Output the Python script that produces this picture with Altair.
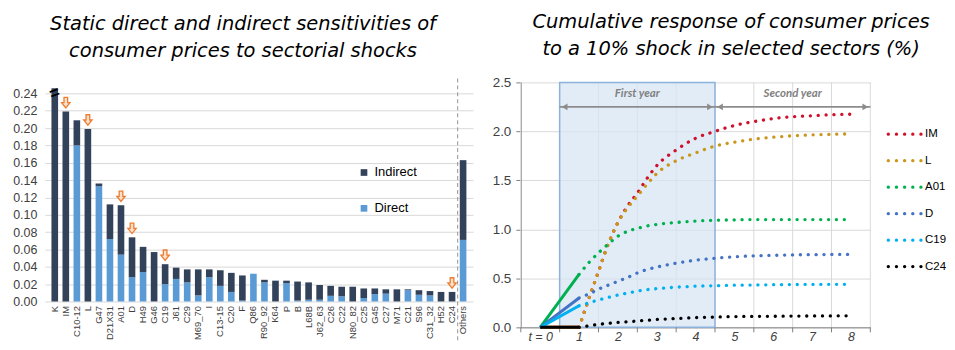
import altair as alt
import pandas as pd

FONT = "Liberation Sans"
TFONT = "DejaVu Sans"

# ---------------- Left panel data ----------------
sectors = ["K", "IM", "C10-12", "L", "G47", "D21X31", "A01", "D", "H49", "G46",
           "C19", "J61", "C29", "M69_70", "I", "C13-15", "C20", "F", "Q86", "R90_92",
           "K64", "P", "B", "L68B", "J62_63", "C26", "C22", "N80_82", "C25", "G45",
           "C27", "M71", "C21", "S96", "C31_32", "H52", "C24", "Others"]
total_sens = [0.246, 0.219, 0.209, 0.199, 0.136, 0.112, 0.111, 0.074, 0.063, 0.057,
              0.043, 0.039, 0.037, 0.037, 0.037, 0.036, 0.033, 0.030, 0.032, 0.025,
              0.024, 0.024, 0.023, 0.022, 0.019, 0.018, 0.017, 0.017, 0.015, 0.015,
              0.014, 0.014, 0.014, 0.013, 0.012, 0.011, 0.011, 0.163]
direct_sens = [0.0, 0.0, 0.180, 0.0, 0.133, 0.072, 0.054, 0.028, 0.034, 0.0,
               0.020, 0.026, 0.022, 0.007, 0.028, 0.018, 0.011, 0.001, 0.032, 0.022,
               0.0, 0.021, 0.001, 0.002, 0.002, 0.0065, 0.006, 0.0, 0.004, 0.0085,
               0.009, 0.0, 0.013, 0.0077, 0.007, 0.0, 0.0, 0.071]
arrow_sectors = ["IM", "L", "A01", "D", "C19", "C24"]
left_ticks = [0.00, 0.02, 0.04, 0.06, 0.08, 0.10, 0.12, 0.14, 0.16, 0.18, 0.20, 0.22, 0.24]
bar_types = ["Indirect", "Direct"]
bar_colors = ["#33425B", "#5B9BD5"]

# ---------------- Right panel data ----------------
t_grid = [0, 1, 1.25, 1.5, 1.75, 2, 2.25, 2.5, 2.75, 3, 3.5, 4, 4.5, 5, 5.5, 6, 6.5, 7, 7.5, 8]
resp_IM = [0, 0, 0.29, 0.57, 0.85, 1.07, 1.24, 1.37, 1.52, 1.65, 1.81, 1.93, 2.00, 2.06, 2.10, 2.13, 2.15, 2.16, 2.17, 2.175]
resp_L = [0, 0, 0.29, 0.57, 0.85, 1.07, 1.22, 1.34, 1.46, 1.57, 1.70, 1.78, 1.85, 1.89, 1.92, 1.94, 1.955, 1.965, 1.97, 1.975]
resp_A01 = [0, 0.54, 0.66, 0.76, 0.85, 0.93, 0.98, 1.01, 1.035, 1.05, 1.07, 1.085, 1.093, 1.097, 1.10, 1.10, 1.10, 1.10, 1.10, 1.10]
resp_D = [0, 0.30, 0.34, 0.39, 0.43, 0.47, 0.51, 0.555, 0.59, 0.615, 0.655, 0.685, 0.705, 0.72, 0.73, 0.735, 0.74, 0.742, 0.744, 0.745]
resp_C19 = [0, 0.22, 0.25, 0.28, 0.305, 0.33, 0.35, 0.37, 0.385, 0.395, 0.41, 0.42, 0.425, 0.43, 0.432, 0.435, 0.437, 0.438, 0.439, 0.44]
resp_C24 = [0, 0, 0.015, 0.03, 0.04, 0.05, 0.057, 0.065, 0.072, 0.08, 0.09, 0.10, 0.105, 0.11, 0.112, 0.113, 0.115, 0.116, 0.117, 0.118]
series_names = ["IM", "L", "A01", "D", "C19", "C24"]
series_values = [resp_IM, resp_L, resp_A01, resp_D, resp_C19, resp_C24]
series_colors = ["#D0112B", "#C9971C", "#00B050", "#4472C4", "#00B0F0", "#000000"]
right_y_ticks = [0, 0.5, 1.0, 1.5, 2.0, 2.5]
right_x_labels = [0, 1, 2, 3, 4, 5, 6, 7, 8]
quarter_edges = [-0.5, 0.5, 1.5, 2.5, 3.5, 4.5, 5.5, 6.5, 7.5, 8.5]
period_labels = ["First year", "Second year"]
period_start = [0.5, 4.5]
period_end = [4.5, 8.5]
period_mid = [2.5, 6.5]
arrow_level = 2.25
label_level = 2.33

# ---------------- Left panel ----------------
rows = []
for s, t, d in zip(sectors, total_sens, direct_sens):
    rows.append({"sector": s, "type": "Direct", "value": d, "ord": 0})
    rows.append({"sector": s, "type": "Indirect", "value": round(t - d, 5), "ord": 1})
bar_df = pd.DataFrame(rows)
tot_df = pd.DataFrame({"sector": sectors, "total": total_sens})
arrow_df = tot_df[tot_df["sector"].isin(arrow_sectors)]
break_df = pd.DataFrame({"sector": [sectors[0]], "total": [left_ticks[-1]]})
sep_df = pd.DataFrame({"sector": [sectors[-1]]})

LW, LH = 430, 220
yscaleL = alt.Scale(domain=[0, 0.2527], nice=False)
yaxisL = alt.Axis(title=None, values=left_ticks, format=".2f", labelFontSize=12.5,
                  labelColor="#404040", ticks=False, domain=False, grid=True,
                  gridColor="#D9D9D9", labelPadding=8, labelFont=FONT, labelOverlap=False)
xL = alt.X("sector:N", sort=sectors,
           scale=alt.Scale(paddingInner=0.4, paddingOuter=0.6),
           axis=alt.Axis(title=None, labelAngle=-90, labelFontSize=9.5, labelColor="#404040",
                         ticks=False, domain=False, labelPadding=4, labelFont=FONT, grid=False))

bars = alt.Chart(bar_df).mark_bar().encode(
    x=xL,
    y=alt.Y("value:Q", stack="zero", scale=yscaleL, axis=yaxisL),
    color=alt.Color("type:N", scale=alt.Scale(domain=bar_types, range=bar_colors),
                    legend=alt.Legend(title=None, orient="none", legendX=314, legendY=84,
                                      symbolType="square", symbolSize=45, labelFontSize=13,
                                      labelFont=FONT, labelColor="#000000", rowPadding=22,
                                      symbolStrokeWidth=0)),
    order=alt.Order("ord:Q", sort="ascending"),
)

arrows = alt.Chart(arrow_df).mark_point(
    shape="M-0.35,-1 L0.35,-1 L0.35,0 L0.8,0 L0,1 L-0.8,0 L-0.35,0 Z",
    filled=True, fill="#FBE0CC", stroke="#ED7D31", strokeWidth=1.3, size=110, opacity=1,
    yOffset=-9,
).encode(x=alt.X("sector:N", sort=sectors), y=alt.Y("total:Q", scale=yscaleL, axis=yaxisL))

brk = alt.Chart(break_df).mark_text(
    text="=", angle=340, fontSize=17, fontWeight="bold", color="#000000", baseline="middle"
).encode(x=alt.X("sector:N", sort=sectors), y=alt.Y("total:Q", scale=yscaleL, axis=yaxisL))

sep = alt.Chart(sep_df).mark_rule(strokeDash=[4, 3], color="#A6A6A6", strokeWidth=1.2, xOffset=-5.5).encode(
    x=alt.X("sector:N", sort=sectors), y=alt.value(-4), y2=alt.value(LH + 39))

left = alt.layer(bars, sep, arrows, brk).properties(
    width=LW, height=LH,
    title=alt.TitleParams(["Static direct and indirect sensitivities of",
                           "consumer prices to sectorial shocks"],
                          fontSize=19.5, font=TFONT, fontStyle="italic", fontWeight="normal",
                          lineHeight=27, anchor="middle", offset=16.5, dx=-16, color="#000000"),
)

# ---------------- Right panel ----------------
lrows = []
for name, vals in zip(series_names, series_values):
    for t, v in zip(t_grid, vals):
        lrows.append({"series": name, "t": t, "value": v})
line_df = pd.DataFrame(lrows)
solid_df = line_df[line_df["t"] <= 1]
dot_df = line_df[line_df["t"] >= 1]

RW, RH = 351, 246
xs = alt.Scale(domain=[-0.5, 8.5], nice=False, zero=False)
ys = alt.Scale(domain=[0, 2.5], nice=False)
cscale = alt.Scale(domain=series_names, range=series_colors)

xR = alt.X("t:Q", scale=xs,
           axis=alt.Axis(title=None, values=right_x_labels,
                         labelExpr="datum.value == 0 ? 't = 0' : datum.label",
                         grid=False, ticks=False, domain=True, domainColor="#808080",
                         labelFontStyle="italic", labelFontSize=12.5, labelColor="#404040",
                         labelPadding=3, labelFont=FONT))
yR = alt.Y("value:Q", scale=ys,
           axis=alt.Axis(title=None, values=right_y_ticks, format=".1f", grid=True,
                         gridColor="#D9D9D9", domain=True, domainColor="#808080",
                         ticks=True, tickColor="#808080", tickSize=5, labelFontSize=13.5,
                         labelColor="#404040", labelPadding=5, labelFont=FONT))

edges_df = pd.DataFrame({"t": quarter_edges})
vgrid = alt.Chart(edges_df).mark_rule(color="#D9D9D9", strokeWidth=1).encode(
    x=alt.X("t:Q", scale=xs), y=alt.value(0), y2=alt.value(RH))
vticks = alt.Chart(edges_df).mark_rule(color="#808080", strokeWidth=1).encode(
    x=alt.X("t:Q", scale=xs), y=alt.value(RH), y2=alt.value(RH + 5))

box_df = pd.DataFrame({"x1": [period_start[0]], "x2": [period_end[0]],
                       "y1": [right_y_ticks[0]], "y2": [right_y_ticks[-1]]})
box = alt.Chart(box_df).mark_rect(fill="#D5E5F4", fillOpacity=0.72, stroke="#8DB3DC",
                                  strokeWidth=1.5).encode(
    x=alt.X("x1:Q", scale=xs), x2="x2:Q", y=alt.Y("y1:Q", scale=ys), y2="y2:Q")

dotted = alt.Chart(dot_df).mark_line(strokeDash=[0.1, 7.8], strokeCap="round", strokeWidth=3.3,
                                     interpolate="monotone").encode(
    x=xR, y=yR, color=alt.Color("series:N", scale=cscale, legend=None), detail="series:N")
solid = alt.Chart(solid_df).mark_line(strokeWidth=3, strokeCap="butt").encode(
    x=alt.X("t:Q", scale=xs), y=alt.Y("value:Q", scale=ys),
    color=alt.Color("series:N", scale=cscale, legend=None), detail="series:N")

per_df = pd.DataFrame({"label": period_labels, "start": period_start, "end": period_end,
                       "mid": period_mid, "lvl": [arrow_level] * 2, "tl": [label_level] * 2})
arr_rule = alt.Chart(per_df).mark_rule(color="#8C8C8C", strokeWidth=1.6).encode(
    x=alt.X("start:Q", scale=xs), x2="end:Q", y=alt.Y("lvl:Q", scale=ys))
arr_l = alt.Chart(per_df).mark_point(shape="triangle-left", filled=True, color="#8C8C8C",
                                     size=45, opacity=1, xOffset=5).encode(
    x=alt.X("start:Q", scale=xs), y=alt.Y("lvl:Q", scale=ys))
arr_r = alt.Chart(per_df).mark_point(shape="triangle-right", filled=True, color="#8C8C8C",
                                     size=45, opacity=1, xOffset=-5).encode(
    x=alt.X("end:Q", scale=xs), y=alt.Y("lvl:Q", scale=ys))
arr_t = alt.Chart(per_df).mark_text(font="Lato", fontStyle="italic", fontWeight="bold",
                                    fontSize=11.5, color="#808080", baseline="bottom").encode(
    x=alt.X("mid:Q", scale=xs), y=alt.Y("tl:Q", scale=ys), text="label:N")

right_plot = alt.layer(vgrid, box, vticks, dotted, solid, arr_rule, arr_l, arr_r, arr_t).properties(
    width=RW, height=RH)

# manual legend panel
leg_rows = []
for name in series_names:
    leg_rows.append({"series": name, "x": 0})
    leg_rows.append({"series": name, "x": 1})
leg_df = pd.DataFrame(leg_rows)
leg_y = alt.Y("series:N", sort=series_names, axis=None,
              scale=alt.Scale(type="point", domain=series_names, range=[52, 185], padding=0))
leg_x = alt.X("x:Q", axis=None, scale=alt.Scale(domain=[0, 1], range=[0, 33]))
leg_lines = alt.Chart(leg_df).mark_line(strokeDash=[0.1, 8.1], strokeCap="round", strokeWidth=3.3).encode(
    x=leg_x, y=leg_y, color=alt.Color("series:N", scale=cscale, legend=None), detail="series:N")
leg_text = alt.Chart(pd.DataFrame({"series": series_names, "x": [1] * 6})).mark_text(
    align="left", dx=4, fontSize=11.5, font=FONT, color="#000000", baseline="middle").encode(
    x=leg_x, y=leg_y, text="series:N")
legend_panel = alt.layer(leg_lines, leg_text).properties(width=33, height=RH)

right = alt.hconcat(right_plot, legend_panel, spacing=10).properties(
    title=alt.TitleParams(["Cumulative response of consumer prices",
                           "to a 10% shock in selected sectors (%)"],
                          fontSize=19.5, font=TFONT, fontStyle="italic", fontWeight="normal",
                          lineHeight=27, anchor="middle", offset=16.5, dx=12, color="#000000"))

chart = alt.hconcat(left, right, spacing=19).resolve_scale(color="independent").properties(
    padding={"left": 4, "top": 3, "right": 0, "bottom": 0}
).configure(
    font=FONT,
    view=alt.ViewConfig(stroke="transparent", strokeWidth=0),
    axis=alt.AxisConfig(labelOverlap=False),
)

chart.save("out.html", embed_options={"renderer": "svg", "actions": False})
